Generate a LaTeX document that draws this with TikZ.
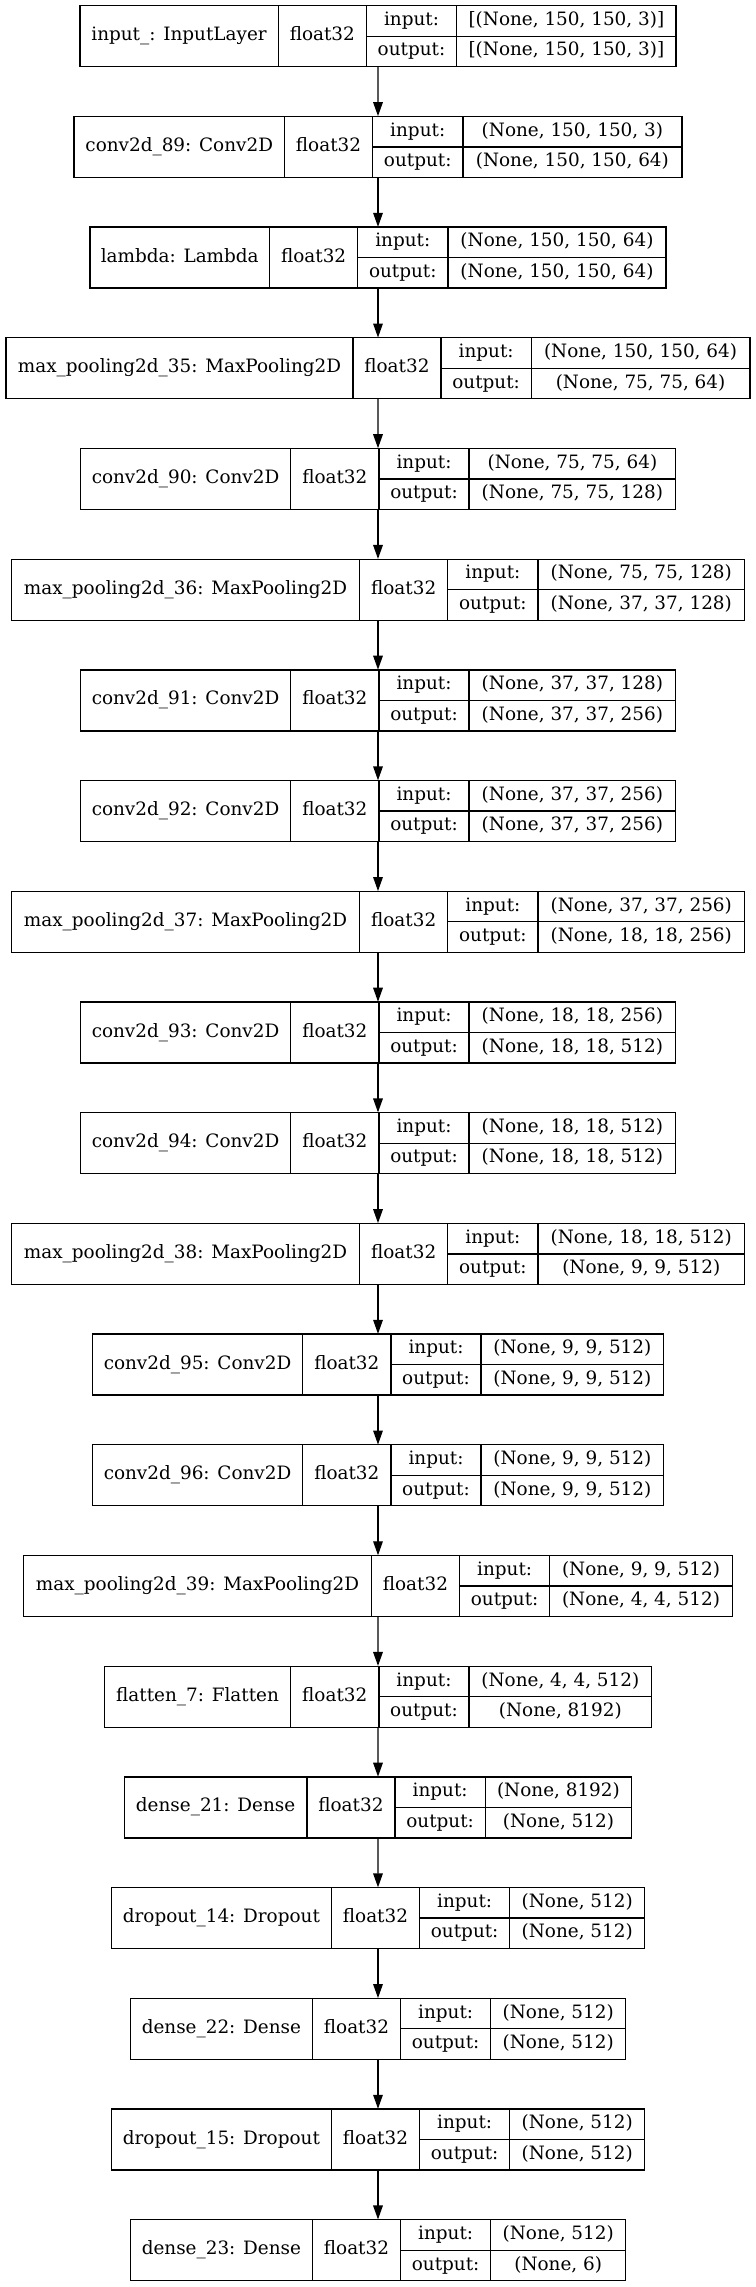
\documentclass[tikz,border=0pt]{standalone}
\usepackage{fontspec}
\setmainfont{DejaVu Serif}
\usetikzlibrary{arrows.meta,positioning,fit}

% one layer: row, name width, shape width (px), name, input shape, output shape
\newcommand{\layer}[6]{%
  \pgfmathsetmacro\xl{378-(#2+88.1+90.3+#3)/2}
  \pgfmathsetmacro\yc{-(36.2+(#1-1)*110.7)}
  \node[tall, minimum width=#2*0.75pt, anchor=west] (nm#1) at (\xl,\yc) {#4};
  \node[tall, minimum width=66.1pt, right=0pt of nm#1] (dt#1) {float32};
  \node[half, minimum width=67.7pt, anchor=north west] (il#1) at (dt#1.north east) {input:};
  \node[half, minimum width=67.7pt, below=0pt of il#1] (ol#1) {output:};
  \node[half, minimum width=#3*0.75pt, right=0pt of il#1] (is#1) {#5};
  \node[half, minimum width=#3*0.75pt, right=0pt of ol#1] (os#1) {#6};
  \node[fit=(nm#1)(os#1), inner sep=0pt] (box#1) {};
}

\begin{document}
\begin{tikzpicture}[x=0.75pt, y=0.75pt,
    field/.style={draw, line width=1pt, outer sep=0pt, inner sep=0pt,
                  font=\fontsize{13.8}{16}\selectfont, text height=10pt, text depth=3.2pt},
    tall/.style={field, minimum height=45.75pt},
    half/.style={field, minimum height=22.875pt},
    arr/.style={-{Triangle[length=10.5pt, width=7.2pt]}, line width=1pt}
  ]
  \path[use as bounding box, fill=white] (0,0) rectangle (756,-2287);

  \layer{1}{198.4}{219.5}{input\_: InputLayer}{[(None, 150, 150, 3)]}{[(None, 150, 150, 3)]}
  \layer{2}{210.4}{219.1}{conv2d\_89: Conv2D}{(None, 150, 150, 3)}{(None, 150, 150, 64)}
  \layer{3}{179.6}{218.1}{lambda: Lambda}{(None, 150, 150, 64)}{(None, 150, 150, 64)}
  \layer{4}{346.7}{218.6}{max\_pooling2d\_35: MaxPooling2D}{(None, 150, 150, 64)}{(None, 75, 75, 64)}
  \layer{5}{210.4}{206.5}{conv2d\_90: Conv2D}{(None, 75, 75, 64)}{(None, 75, 75, 128)}
  \layer{6}{348.1}{206.5}{max\_pooling2d\_36: MaxPooling2D}{(None, 75, 75, 128)}{(None, 37, 37, 128)}
  \layer{7}{210.4}{206.5}{conv2d\_91: Conv2D}{(None, 37, 37, 128)}{(None, 37, 37, 256)}
  \layer{8}{210.4}{206.5}{conv2d\_92: Conv2D}{(None, 37, 37, 256)}{(None, 37, 37, 256)}
  \layer{9}{348.1}{206.5}{max\_pooling2d\_37: MaxPooling2D}{(None, 37, 37, 256)}{(None, 18, 18, 256)}
  \layer{10}{210.4}{206.5}{conv2d\_93: Conv2D}{(None, 18, 18, 256)}{(None, 18, 18, 512)}
  \layer{11}{210.4}{206.5}{conv2d\_94: Conv2D}{(None, 18, 18, 512)}{(None, 18, 18, 512)}
  \layer{12}{348.1}{206.5}{max\_pooling2d\_38: MaxPooling2D}{(None, 18, 18, 512)}{(None, 9, 9, 512)}
  \layer{13}{210.4}{182.5}{conv2d\_95: Conv2D}{(None, 9, 9, 512)}{(None, 9, 9, 512)}
  \layer{14}{210.4}{182.5}{conv2d\_96: Conv2D}{(None, 9, 9, 512)}{(None, 9, 9, 512)}
  \layer{15}{347.6}{182.5}{max\_pooling2d\_39: MaxPooling2D}{(None, 9, 9, 512)}{(None, 4, 4, 512)}
  \layer{16}{186.3}{182.5}{flatten\_7: Flatten}{(None, 4, 4, 512)}{(None, 8192)}
  \layer{17}{182.5}{146.4}{dense\_21: Dense}{(None, 8192)}{(None, 512)}
  \layer{18}{220.0}{134.8}{dropout\_14: Dropout}{(None, 512)}{(None, 512)}
  \layer{19}{182.0}{134.8}{dense\_22: Dense}{(None, 512)}{(None, 512)}
  \layer{20}{220.0}{134.8}{dropout\_15: Dropout}{(None, 512)}{(None, 512)}
  \layer{21}{182.0}{134.8}{dense\_23: Dense}{(None, 512)}{(None, 6)}

  \foreach \i [evaluate=\i as \j using int(\i+1)] in {1,...,20}
    \draw[arr] (box\i.south) -- (box\j.north);
\end{tikzpicture}
\end{document}
